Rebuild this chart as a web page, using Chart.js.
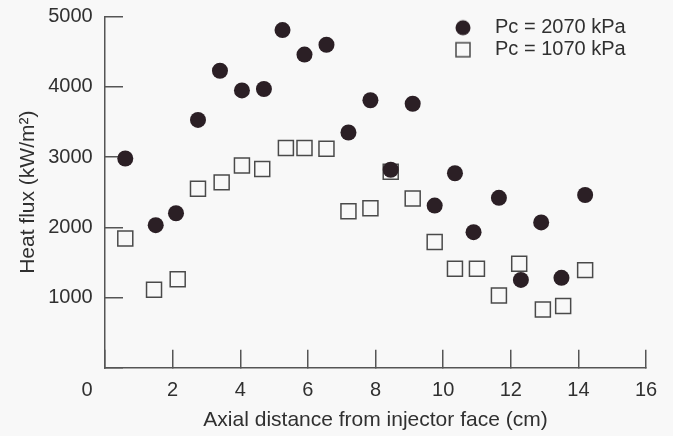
<!DOCTYPE html>
<html>
<head>
<meta charset="utf-8">
<script src="https://cdn.jsdelivr.net/npm/chart.js@4/dist/chart.umd.min.js"></script>
<style>
  html, body { margin: 0; padding: 0; background: #f8f8f8; }
  #wrap { width: 673px; height: 436px; position: relative; }
</style>
</head>
<body>
<div id="wrap"><canvas id="c"></canvas></div>
<script>
// ---- data ----
const seriesLabels = ['Pc = 2070 kPa', 'Pc = 1070 kPa'];
const distHigh = [0.6, 1.5, 2.1, 2.75, 3.4, 4.05, 4.7, 5.25, 5.9, 6.55, 7.2, 7.85, 8.45, 9.1, 9.75, 10.35, 10.9, 11.65, 12.3, 12.9, 13.5, 14.2];
const fluxHigh = [2980, 2030, 2200, 3530, 4230, 3950, 3970, 4810, 4460, 4600, 3350, 3810, 2820, 3760, 2310, 2770, 1930, 2420, 1250, 2070, 1280, 2460];
const distLow  = [0.6, 1.45, 2.15, 2.75, 3.45, 4.05, 4.65, 5.35, 5.9, 6.55, 7.2, 7.85, 8.45, 9.1, 9.75, 10.35, 11.0, 11.65, 12.25, 12.95, 13.55, 14.2];
const fluxLow  = [1840, 1110, 1260, 2550, 2640, 2880, 2830, 3130, 3130, 3120, 2230, 2270, 2790, 2410, 1790, 1410, 1410, 1030, 1480, 830, 880, 1390];
const xTitle = 'Axial distance from injector face (cm)';
const yTitle = 'Heat flux (kW/m\u00B2)';
const originLabel = '0';

const FONT = '"Liberation Sans", Arial, Helvetica, sans-serif';
const TXT = '#303030';
const AXC = '#555555';
const DOT = '#2b1f25';

function markerImage(kind) {
  const c = document.createElement('canvas');
  c.width = 18; c.height = 18;
  const g = c.getContext('2d');
  if (kind === 'circle') {
    g.fillStyle = DOT;
    g.beginPath(); g.arc(9, 9, 7.5, 0, Math.PI * 2); g.fill();
  } else {
    g.strokeStyle = '#4a4a4a'; g.lineWidth = 1.5;
    g.strokeRect(2, 2, 14, 14);
  }
  return c;
}
const legendMarkers = [markerImage('circle'), markerImage('rect')];

const toPts = (xs, ys) => xs.map((x, i) => ({ x: x, y: ys[i] }));

const placeLegend = {
  id: 'placeLegend',
  afterLayout(chart) {
    const lg = chart.legend, ca = chart.chartArea;
    lg.left = ca.right - 207; lg.right = ca.right + 25;
    lg.top = ca.top - 1; lg.bottom = ca.top + 85;
    lg.width = lg.right - lg.left; lg.height = lg.bottom - lg.top;
  }
};
const originText = {
  id: 'originText',
  afterDraw(chart) {
    const xs = chart.scales.x, ys = chart.scales.y;
    const ctx = chart.ctx;
    ctx.save();
    ctx.font = '20px ' + FONT;
    ctx.fillStyle = TXT;
    ctx.textAlign = 'right';
    ctx.textBaseline = 'middle';
    ctx.fillText(originLabel, ys.right - 12.3, xs.top + 10.3 + 12);
    ctx.restore();
  }
};

new Chart(document.getElementById('c'), {
  type: 'scatter',
  data: {
    datasets: [
      { label: seriesLabels[0], data: toPts(distHigh, fluxHigh), pointStyle: 'circle', pointRadius: 8,
        backgroundColor: DOT, borderColor: DOT, borderWidth: 0, pointHoverRadius: 8 },
      { label: seriesLabels[1], data: toPts(distLow, fluxLow), pointStyle: 'rect', pointRadius: 10.6,
        backgroundColor: 'rgba(0,0,0,0)', borderColor: '#4a4a4a', borderWidth: 1.5, pointHoverRadius: 10.6 }
    ]
  },
  options: {
    responsive: true,
    maintainAspectRatio: false,
    animation: false,
    events: [],
    layout: { padding: { left: 0, top: 16.7, right: 27, bottom: 0 } },
    plugins: {
      tooltip: { enabled: false },
      legend: {
        position: 'chartArea',
        align: 'start',
        labels: {
          usePointStyle: true,
          pointStyleWidth: 44,
          padding: 2,
          color: TXT,
          font: { family: FONT, size: 20 },
          generateLabels: (chart) => chart.data.datasets.map((ds, i) => ({
            text: ds.label, pointStyle: legendMarkers[i], fillStyle: ds.backgroundColor,
            strokeStyle: ds.borderColor, lineWidth: 0, hidden: false, datasetIndex: i, fontColor: TXT
          }))
        }
      }
    },
    scales: {
      x: {
        type: 'linear', min: 0, max: 16,
        afterFit: (s) => { s.height = 68.3; s.paddingLeft = 0; s.paddingRight = 0; },
        ticks: { stepSize: 2, padding: 28.3, color: TXT, font: { family: FONT, size: 20 },
                 callback: (v) => (v === 0 ? '' : String(v)) },
        grid: { drawOnChartArea: false, drawTicks: true, tickLength: -18, color: AXC, lineWidth: 1.5 },
        border: { display: true, color: AXC, width: 1.5 },
        title: { display: true, text: xTitle, color: TXT, font: { family: FONT, size: 21 }, padding: { top: 0, bottom: 3.4 } }
      },
      y: {
        type: 'linear', min: 0, max: 5000,
        afterFit: (s) => { s.width = 105; s.paddingTop = 0; s.paddingBottom = 0; },
        ticks: { stepSize: 1000, padding: 30.3, color: TXT, font: { family: FONT, size: 20 },
                 callback: (v) => (v === 0 ? '' : String(v)) },
        grid: { drawOnChartArea: false, drawTicks: true, tickLength: -18, color: AXC, lineWidth: 1.5 },
        border: { display: true, color: AXC, width: 1.5 },
        title: { display: true, text: yTitle, color: TXT, font: { family: FONT, size: 21 }, padding: { top: 15.4, bottom: 0 } }
      }
    }
  },
  plugins: [placeLegend, originText]
});
</script>
</body>
</html>
